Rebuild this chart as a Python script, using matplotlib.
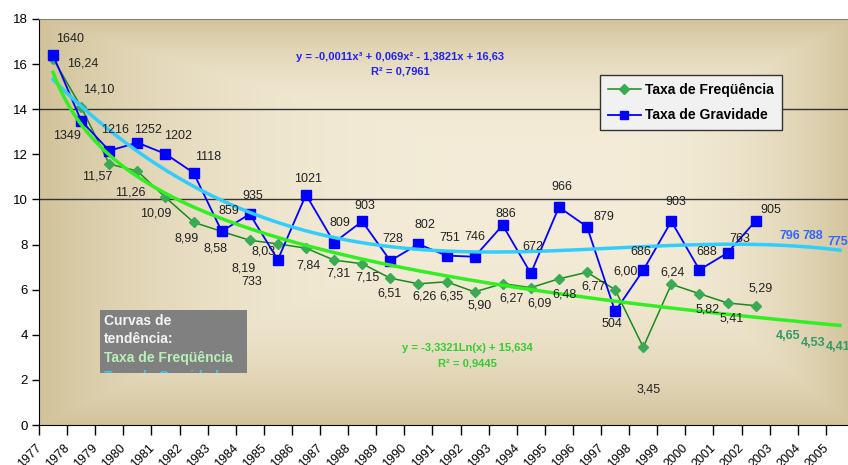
import matplotlib.pyplot as plt
import numpy as np
from matplotlib.lines import Line2D
from matplotlib.patches import Rectangle
from matplotlib.transforms import ScaledTranslation

plt.rcParams['font.family'] = ['Liberation Sans', 'DejaVu Sans']

# data
anos = [str(a) for a in range(1977, 2006)]
freq = [16.24, 14.10, 11.57, 11.26, 10.09, 8.99, 8.58, 8.19, 8.03, 7.84, 7.31, 7.15, 6.51,
        6.26, 6.35, 5.90, 6.27, 6.09, 6.48, 6.77, 6.00, 3.45, 6.24, 5.82, 5.41, 5.29]
grav = [1640, 1349, 1216, 1252, 1202, 1118, 859, 935, 733, 1021, 809, 903, 728,
        802, 751, 746, 886, 672, 966, 879, 504, 686, 903, 688, 763, 905]
proj_grav = [796, 788, 775]
proj_freq = [4.65, 4.53, 4.41]
poly_coef = [-0.0011, 0.069, -1.3821, 16.63]   # trend for gravidade (/100)
log_coef = [-3.3321, 15.634]                     # trend for frequencia

# label offsets in pixels (dx, dy with y pointing down)
off_freq = [(30, 5), (18, -17), (-12, 12), (-7, 21), (-10, 16), (-7, 16), (-6, 17), (-6, 28),
            (-14, 8), (2, 17), (4, 13), (5, 14), (-1, 15), (6, 13), (5, 15), (5, 14), (9, 15),
            (9, 16), (6, 16), (7, 14), (10, -18), (5, 42), (1, -12), (8, 16), (4, 16), (5, -17)]
off_grav = [(17, -16), (-14, 15), (6, -21), (11, -13), (13, -18), (15, -16), (7, -20), (3, -18),
            (-26, 22), (2, -16), (6, -20), (3, -15), (2, -22), (7, -19), (3, -18), (0, -20),
            (3, -11), (2, -26), (3, -20), (17, -10), (-3, 13), (-2, -18), (4, -19), (7, -18),
            (12, -14), (15, -11)]
off_pg = [(6, -9), (1, -11), (-2, -8)]
off_pf = [(4, 16), (1, 20), (-2, 22)]

W, H = 848, 465
fig = plt.figure(figsize=(W / 100, H / 100), dpi=100)
fig.patch.set_facecolor('white')
ax = fig.add_axes([39 / W, 40 / H, 815 / W, 406 / H])

# background gradient of the plot area
gw, gh = 815, 406
cx, cy = 520, 160
xx, yy = np.meshgrid(np.arange(gw), np.arange(gh))
tx = np.where(xx < cx, (cx - xx) / cx, (xx - cx) / (gw - cx))
ty = np.where(yy < cy, (cy - yy) / cy, (yy - cy) / (gh - cy))
t = np.maximum(tx, ty) ** 3
light = np.array([0.955, 0.925, 0.845])
dark = np.array([0.82, 0.76, 0.60])
img = light[None, None, :] * (1 - t[..., None]) + dark[None, None, :] * t[..., None]
ax.imshow(img, extent=[0, 1, 0, 1], transform=ax.transAxes, aspect='auto', zorder=0)

x = np.arange(len(freq))
g = np.array(grav) / 100

ax.axhline(10, color='#333333', lw=1, zorder=1)
ax.axhline(14, color='#333333', lw=1, zorder=1)

ax.plot(x, freq, color='#1a8a1a', lw=1.1, marker='D', ms=5, mfc='#3aaa55', mec='#3aaa55', zorder=3)
ax.plot(x, g, color='#0000ff', lw=1.3, marker='s', ms=6.5, mfc='#0000ff', mec='#0000ff', zorder=3)

xt = np.linspace(1, len(anos), 300)
ax.plot(xt - 1, np.polyval(poly_coef, xt), color='#33ccff', lw=2.5, zorder=4)
ax.plot(xt - 1, log_coef[0] * np.log(xt) + log_coef[1], color='#33ee22', lw=2.5, zorder=4)

for i, v in enumerate(freq):
    dx, dy = off_freq[i]
    ax.annotate(f'{v:.2f}'.replace('.', ','), (x[i], v), xytext=(dx, -dy), textcoords='offset pixels',
                ha='center', va='center', fontsize=9, color='#222222', zorder=5)
for i, v in enumerate(grav):
    dx, dy = off_grav[i]
    ax.annotate(str(v), (x[i], g[i]), xytext=(dx, -dy), textcoords='offset pixels',
                ha='center', va='center', fontsize=9, color='#222222', zorder=5)

n = len(freq)
for j in range(3):
    xp = n + j
    yg = np.polyval(poly_coef, xp + 1)
    yf = log_coef[0] * np.log(xp + 1) + log_coef[1]
    dx, dy = off_pg[j]
    ax.annotate(str(proj_grav[j]), (xp, yg), xytext=(dx, -dy), textcoords='offset pixels',
                ha='center', va='center', fontsize=9, fontweight='bold', color='#3366ff', zorder=5)
    dx, dy = off_pf[j]
    ax.annotate(f'{proj_freq[j]:.2f}'.replace('.', ','), (xp, yf), xytext=(dx, -dy),
                textcoords='offset pixels', ha='center', va='center', fontsize=9,
                fontweight='bold', color='#339966', zorder=5)

ax.set_xlim(-0.5, len(anos) - 0.5)
ax.set_ylim(0, 18)
ax.set_yticks(range(0, 19, 2))
ax.tick_params(axis='y', length=5, width=1, labelsize=9.5, pad=3)
ax.set_xticks(np.arange(len(anos) + 1) - 0.5)
ax.set_xticklabels([])
ax.tick_params(axis='x', which='major', length=7, width=1)
ax.set_xticks(x.tolist() + [n, n + 1, n + 2], anos, minor=True)
ax.tick_params(axis='x', which='minor', length=0, pad=12, labelsize=9, labelrotation=45)
for lab in ax.get_xticklabels(minor=True):
    lab.set_ha('right')
    lab.set_transform(lab.get_transform() + ScaledTranslation(-9 / 100, 0, fig.dpi_scale_trans))

ax.spines['left'].set_color('black')
ax.spines['bottom'].set_color('black')
ax.spines['top'].set_color('#808080')
ax.spines['right'].set_visible(False)

# trend equations
ax.text(400 / W, 1 - 57 / H, 'y = -0,0011x³ + 0,069x² - 1,3821x + 16,63', transform=fig.transFigure,
        ha='center', va='center', fontsize=8, fontweight='bold', color='#2222ee', zorder=6)
ax.text(400 / W, 1 - 72 / H, 'R² = 0,7961', transform=fig.transFigure,
        ha='center', va='center', fontsize=8, fontweight='bold', color='#2222ee', zorder=6)
ax.text(467 / W, 1 - 348 / H, 'y = -3,3321Ln(x) + 15,634', transform=fig.transFigure,
        ha='center', va='center', fontsize=8, fontweight='bold', color='#33cc33', zorder=6)
ax.text(467 / W, 1 - 363 / H, 'R² = 0,9445', transform=fig.transFigure,
        ha='center', va='center', fontsize=8, fontweight='bold', color='#33cc33', zorder=6)

# legend
handles = [Line2D([], [], color='#1a8a1a', lw=1.1, marker='D', ms=5, mfc='#3aaa55', mec='#3aaa55'),
           Line2D([], [], color='#0000ff', lw=1.3, marker='s', ms=6, mfc='#0000ff', mec='#0000ff')]
leg = ax.legend(handles, ['Taxa de Freqüência', 'Taxa de Gravidade'], loc='upper left',
                bbox_to_anchor=(600 / W, 1 - 75 / H), bbox_transform=fig.transFigure,
                prop={'weight': 'bold', 'size': 10}, fancybox=False, framealpha=1,
                facecolor='#f1f1f1', edgecolor='#333333', handlelength=2.4, handletextpad=0.3,
                labelspacing=0.85, borderpad=0.55, borderaxespad=0)
leg.get_frame().set_linewidth(1)
leg.set_zorder(7)

# gray box with trend captions
box = Rectangle((100 / W, 1 - 373 / H), 147 / W, 63 / H, transform=fig.transFigure,
                facecolor='#808080', edgecolor='none', zorder=6)
ax.add_patch(box)
lines = [('Curvas de', '#f4f4f4', 325), ('tendência:', '#f4f4f4', 343),
         ('Taxa de Freqüência', '#b8f0b8', 362), ('Taxa de Gravidade', '#33ccff', 381)]
for s, c, yb in lines:
    tx_ = ax.text(104 / W, 1 - yb / H, s, transform=fig.transFigure, ha='left', va='baseline',
                  fontsize=10, fontweight='bold', color=c, zorder=7, clip_on=True)
    tx_.set_clip_path(box)

fig.savefig('out.png', dpi=100)
